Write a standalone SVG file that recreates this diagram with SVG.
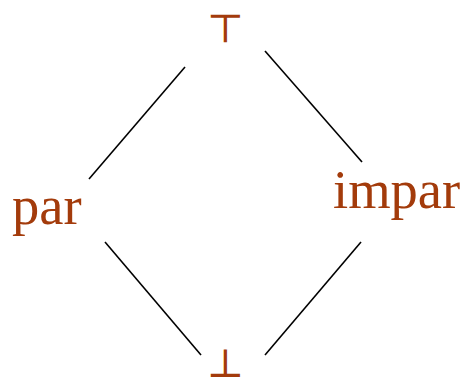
<svg xmlns="http://www.w3.org/2000/svg" width="460" height="382" viewBox="0 0 460 382">
<style>
.lbl{font-family:"Liberation Serif","DejaVu Serif",serif;fill:#A33B0B;font-size:54.5px}
.sym{font-family:"DejaVu Serif","Liberation Serif",serif;fill:#A33B0B;font-size:40px}
.edge{stroke:#000;stroke-width:1.6;fill:none}
</style>
<rect width="460" height="382" fill="#fff"/>
<g id="connectors">
<line class="edge" x1="185" y1="67" x2="89" y2="179"/>
<line class="edge" x1="265" y1="51" x2="362" y2="162"/>
<line class="edge" x1="105" y1="242" x2="201" y2="355"/>
<line class="edge" x1="265" y1="355" x2="361" y2="242"/>
</g>
<g id="top"><text class="sym" x="225.5" y="42" text-anchor="middle">⊤</text></g>
<g id="par"><text class="lbl" x="12" y="224">par</text></g>
<g id="impar"><text class="lbl" x="333" y="207.5">impar</text></g>
<g id="bottom"><text class="sym" x="225.5" y="376.5" text-anchor="middle">⊥</text></g>
</svg>
